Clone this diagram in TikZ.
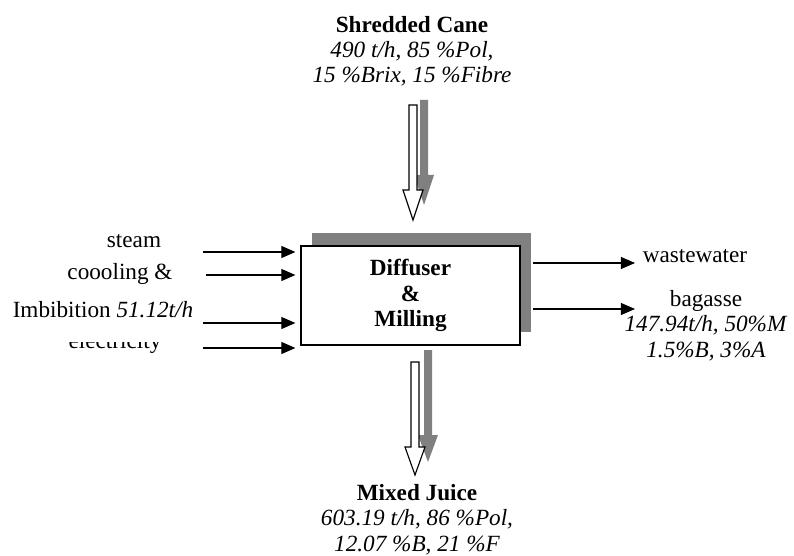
\documentclass[tikz,border=0pt]{standalone}
\usepackage{fontspec}
\setmainfont{Liberation Serif}
\usetikzlibrary{arrows.meta}
\definecolor{shadowgray}{RGB}{128,128,128}

\begin{document}
\begin{tikzpicture}[x=0.025cm, y=-0.025cm, font=\fontsize{16.5}{18}\selectfont,
  feed/.style={line width=0.8pt, -{Triangle[length=10pt,width=8.5pt]}}]
\useasboundingbox (0,0) rectangle (794,556);

% feed and product texts
\node[anchor=base, align=center] (cane) at (412,83) {{\bfseries Shredded Cane}\\{\itshape 490 t/h, 85 \%Pol,}\\{\itshape 15 \%Brix, 15 \%Fibre}};
\node[anchor=base, align=center] (juice) at (417,551) {{\bfseries Mixed Juice}\\{\itshape 603.19 t/h, 86 \%Pol,}\\{\itshape 12.07 \%B, 21 \%F}};

% diffuser box and its shadow
\fill[shadowgray] (312,233) rectangle (531,332);
\node[draw, line width=0.9pt, fill=white, minimum width=5.475cm, minimum height=2.475cm, align=center, font=\fontsize{16.5}{18}\selectfont\bfseries] (box) at (410.5,295.5) {Diffuser\\\&\\Milling};

% hollow arrows with shadows
\fill[shadowgray, shift={(424,100)}] (-4,0) -- (4,0) -- (4,75) -- (10,75) -- (0,105) -- (-10,75) -- (-4,75) -- cycle;
\draw[line width=0.8pt, fill=white, shift={(413,105)}] (-4,0) -- (4,0) -- (4,85) -- (10,85) -- (0,115) -- (-10,85) -- (-4,85) -- cycle;
\fill[shadowgray, shift={(428,350)}] (-4,0) -- (4,0) -- (4,85) -- (10,85) -- (0,112) -- (-10,85) -- (-4,85) -- cycle;
\draw[line width=0.8pt, fill=white, shift={(415,362)}] (-4,0) -- (4,0) -- (4,85) -- (10,85) -- (0,113) -- (-10,85) -- (-4,85) -- cycle;

% inputs
\node[anchor=base] (steam) at (134,248) {steam};
\node[anchor=base] (cooling) at (120,280) {coooling \&};
\begin{scope}
\clip (0,342) rectangle (200,360);
\node[anchor=base] (elec) at (115,348) {electricity};
\end{scope}
\node[anchor=base] (imbib) at (103,317) {Imbibition \textit{51.12t/h}};
\coordinate (steamin) at (203,252);
\coordinate (coolin) at (206,275);
\coordinate (imbibin) at (203,323);
\coordinate (elecin) at (203,348);
\draw[feed, shorten >=3.5pt] (steamin) -- (steamin -| box.west);
\draw[feed, shorten >=3.5pt] (coolin) -- (coolin -| box.west);
\draw[feed, shorten >=3.5pt] (imbibin) -- (imbibin -| box.west);
\draw[feed, shorten >=3.5pt] (elecin) -- (elecin -| box.west);

% outputs
\coordinate (waterout) at (635,263);
\coordinate (bagout) at (635,309);
\draw[feed, shorten <=9pt] (waterout -| box.east) -- (waterout);
\draw[feed, shorten <=9pt] (bagout -| box.east) -- (bagout);
\node[anchor=base] (water) at (695,263) {wastewater};
\node[anchor=base, align=center] (bagasse) at (706,357) {bagasse\\\textit{147.94t/h, 50\%M}\\\textit{1.5\%B, 3\%A}};

\end{tikzpicture}
\end{document}
